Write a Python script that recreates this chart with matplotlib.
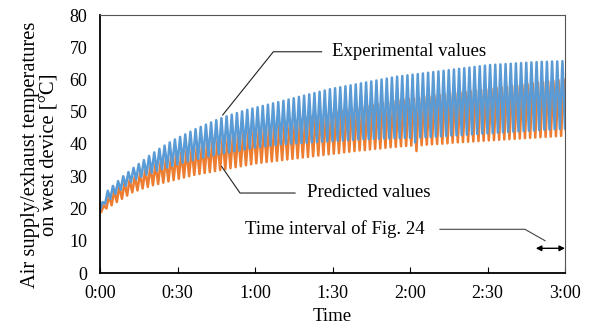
import matplotlib
matplotlib.use('Agg')
import matplotlib.pyplot as plt
import numpy as np

plt.rcParams['font.family'] = ['Liberation Serif', 'DejaVu Serif']

# time axis (minutes) and tick labels
tick_minutes = [0, 30, 60, 90, 120, 150, 180]
tick_labels = ['0:00', '0:30', '1:00', '1:30', '2:00', '2:30', '3:00']

# experimental values: troughs at even minutes, peaks at odd minutes
exp_low = [19.5, 21.5, 23.0, 24.5, 25.8, 27.0, 28.2, 29.0, 29.8, 30.5,
           31.1, 31.7, 32.2, 32.7, 33.2, 33.7, 34.2, 34.6, 35.0, 35.4,
           35.8, 36.2, 36.5, 36.8, 37.1, 37.4, 37.7, 38.0, 38.3, 38.6,
           38.9, 39.1, 39.3, 39.5, 39.7, 39.9, 40.0, 40.1, 40.2, 40.3,
           40.4, 40.5, 40.6, 40.7, 40.8, 40.9, 41.0, 41.1, 41.2, 41.3,
           41.4, 41.5, 41.5, 41.6, 41.6, 41.7, 41.7, 41.8, 41.8, 41.9,
           41.9, 40.5, 42.0, 42.1, 42.2, 42.3, 42.4, 42.5, 42.6, 42.7,
           42.8, 42.9, 43.0, 43.1, 43.2, 43.3, 43.4, 43.5, 43.6, 43.7,
           43.8, 43.9, 44.0, 44.1, 44.2, 44.3, 44.4, 44.5, 44.6, 44.7, 44.8]
exp_high = [22.0, 25.5, 27.0, 28.5, 30.0, 31.3, 32.6, 33.8, 35.0, 36.3,
            37.4, 38.5, 39.5, 40.5, 41.4, 42.2, 43.0, 43.8, 44.6, 45.3,
            46.0, 46.7, 47.4, 48.0, 48.6, 49.1, 49.6, 50.1, 50.6, 51.0,
            51.4, 51.8, 52.2, 52.6, 53.0, 53.4, 53.8, 54.2, 54.6, 55.0,
            55.4, 55.8, 56.2, 56.6, 57.0, 57.3, 57.6, 57.9, 58.2, 58.5,
            58.8, 59.1, 59.4, 59.7, 60.0, 60.3, 60.6, 60.9, 61.1, 61.3,
            61.5, 61.7, 61.9, 62.1, 62.3, 62.5, 62.7, 62.9, 63.1, 63.3,
            63.5, 63.7, 63.9, 64.1, 64.3, 64.5, 64.6, 64.7, 64.8, 64.9,
            65.0, 65.1, 65.2, 65.3, 65.4, 65.5, 65.5, 65.6, 65.6, 65.7]

# predicted values
pred_low = [19.0, 20.0, 21.0, 22.0, 23.0, 24.0, 25.0, 25.6, 26.2, 26.7,
            27.2, 27.6, 28.0, 28.4, 28.8, 29.2, 29.6, 30.0, 30.4, 30.7,
            31.0, 31.3, 31.6, 31.9, 32.2, 32.5, 32.8, 33.1, 33.4, 33.7,
            34.0, 34.2, 34.4, 34.6, 34.8, 35.0, 35.2, 35.4, 35.6, 35.8,
            36.0, 36.2, 36.4, 36.6, 36.8, 37.0, 37.2, 37.4, 37.6, 37.8,
            38.0, 38.1, 38.3, 38.5, 38.6, 38.8, 39.0, 39.1, 39.3, 39.4,
            39.5, 37.8, 39.6, 39.8, 39.9, 40.0, 40.1, 40.2, 40.4, 40.5,
            40.6, 40.7, 40.8, 40.9, 41.0, 41.1, 41.2, 41.3, 41.4, 41.5,
            41.6, 41.7, 41.8, 41.9, 42.0, 42.1, 42.2, 42.3, 42.4, 42.5, 42.5]
pred_high = [21.0, 24.0, 25.5, 26.8, 28.0, 29.0, 30.0, 31.0, 32.0, 33.0,
             33.8, 34.6, 35.4, 36.1, 36.8, 37.4, 38.0, 38.6, 39.2, 39.8,
             40.3, 40.8, 41.3, 41.8, 42.3, 42.8, 43.2, 43.6, 44.0, 44.4,
             44.8, 45.2, 45.6, 46.0, 46.4, 46.8, 47.2, 47.6, 48.0, 48.3,
             48.6, 48.9, 49.2, 49.5, 49.8, 50.1, 50.4, 50.7, 51.0, 51.3,
             51.6, 51.9, 52.2, 52.5, 52.8, 53.1, 53.4, 53.6, 53.8, 54.0,
             54.2, 54.4, 54.6, 54.8, 55.0, 55.2, 55.4, 55.6, 55.8, 56.0,
             56.2, 56.4, 56.6, 56.8, 57.0, 57.2, 57.4, 57.6, 57.8, 58.0,
             58.2, 58.4, 58.6, 58.8, 59.0, 59.2, 59.4, 59.6, 59.8, 60.0]


def interleave(low, high):
    out = np.empty(len(low) + len(high))
    out[0::2] = low
    out[1::2] = high
    return out


exp_vals = interleave(exp_low, exp_high)
pred_vals = interleave(pred_low, pred_high)
t = np.arange(len(exp_vals), dtype=float)  # one sample per minute

blue = '#5B9BD5'
orange = '#ED7D31'
fs = 13.5

fig = plt.figure(figsize=(5.91, 3.35), dpi=100)
ax = fig.add_axes([100 / 591, 62 / 335, 465 / 591, 258 / 335])

# predicted drawn first so the measured curve sits on top
ax.plot(t + 0.5, pred_vals, color=orange, lw=1.8, solid_joinstyle='round')
ax.plot(t, exp_vals, color=blue, lw=1.8, solid_joinstyle='round')

ax.set_xlim(0, 180)
ax.set_ylim(0, 80)
ax.set_xticks(tick_minutes)
ax.set_xticklabels(tick_labels)
ax.set_yticks(range(0, 81, 10))
ax.tick_params(axis='x', direction='in', length=4.5, width=0.8, labelsize=13, pad=9)
ax.tick_params(axis='y', length=0, labelsize=13, pad=9)
for s in ['left', 'bottom']:
    ax.spines[s].set_linewidth(1.3)
    ax.spines[s].set_color('black')
for s in ['top', 'right']:
    ax.spines[s].set_linewidth(0.8)
    ax.spines[s].set_color('#555555')

ax.set_xlabel('Time', fontsize=fs, labelpad=4)
ax.set_ylabel('Air supply/exhaust temperatures\non west device [°C]', fontsize=14.8,
              linespacing=1.0)
ax.yaxis.set_label_coords(-0.088, 0.46)

# annotations
lc = '#222222'
ax.plot([47.5, 67.1, 85.8], [49.0, 68.6, 68.6], color=lc, lw=0.8, clip_on=False)
ax.text(89.7, 68.6, 'Experimental values', fontsize=fs, va='center', ha='left')
ax.plot([47.1, 54.2, 75.5], [33.0, 24.8, 24.8], color=lc, lw=0.8, clip_on=False)
ax.text(80.0, 24.9, 'Predicted values', fontsize=fs, va='center', ha='left')
ax.plot([131.6, 164.5, 172.3], [13.55, 13.55, 10.0], color='#444444', lw=0.8)
ax.text(56.0, 13.55, 'Time interval of Fig. 24', fontsize=fs, va='center', ha='left')
ax.annotate('', xy=(168.7, 7.66), xytext=(180, 7.66),
            arrowprops=dict(arrowstyle='<|-|>', color='black', lw=1.0,
                            mutation_scale=8, shrinkA=0, shrinkB=0),
            annotation_clip=False)

fig.savefig('out.png', dpi=100)
